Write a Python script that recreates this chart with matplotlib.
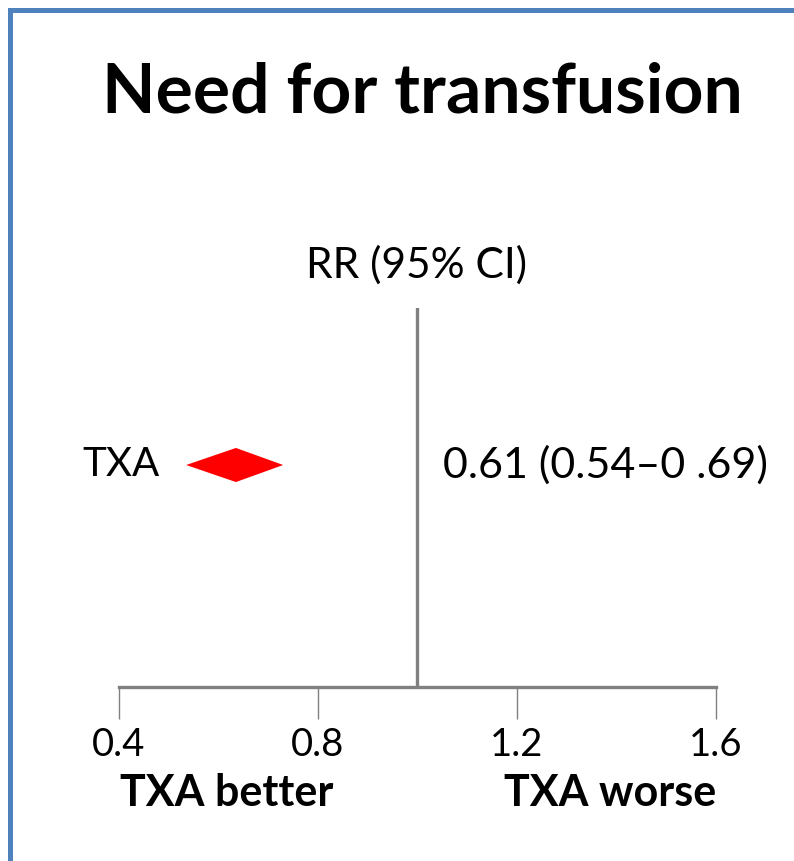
#!/usr/bin/env python3

import matplotlib
matplotlib.use("Agg")
import matplotlib.pyplot as plt
from matplotlib.lines import Line2D
from matplotlib.patches import Polygon

# Data
labels = ["TXA"]
est = [0.635]
lower = [0.535]
upper = [0.73]
ci_text = ["0.61 (0.54\u20130 .69)"]
xticks = [0.4, 0.8, 1.2, 1.6]
xtick_labels = ["0.4", "0.8", "1.2", "1.6"]

W, H = 794, 861
FONT = "Lato"
GRAY = "#808080"
BLUE = "#4F81BD"

plt.rcParams["font.family"] = [FONT, "DejaVu Sans"]

fig = plt.figure(figsize=(W / 100, H / 100), dpi=100)


def fx(px):
    return px / W


def fy(py):
    return 1 - py / H


# slide frame (cropped on right and bottom)
fig.add_artist(Line2D([fx(10), fx(10)], [fy(10), fy(H + 10)], color=BLUE, lw=3.6,
                      transform=fig.transFigure, solid_capstyle="projecting"))
fig.add_artist(Line2D([fx(10), fx(W + 10)], [fy(10), fy(10)], color=BLUE, lw=3.6,
                      transform=fig.transFigure, solid_capstyle="projecting"))

# plot area: x 0.4 -> 119px, 1.6 -> 716px; y from axis line (687) to top of ref line (308)
ax = fig.add_axes([fx(119), fy(687), fx(716) - fx(119), (687 - 308) / H])
ax.set_xlim(0.4, 1.6)
ax.set_ylim(0, 1)
row_y = [(687 - 465) / (687 - 308)]

for s in ["top", "right", "left"]:
    ax.spines[s].set_visible(False)
ax.spines["bottom"].set_color(GRAY)
ax.spines["bottom"].set_linewidth(2.4)
ax.set_yticks([])
ax.set_xticks(xticks)
ax.set_xticklabels(xtick_labels, fontsize=27.5)
ax.tick_params(axis="x", direction="out", length=23, width=1, color=GRAY, pad=6)

ax.axvline(1.0, 0, 1, color=GRAY, lw=2.4)

# diamond for the pooled estimate
for y, e, lo, hi in zip(row_y, est, lower, upper):
    h = 0.045
    ax.add_patch(Polygon([[lo, y], [e, y + h], [hi, y], [e, y - h]], closed=True,
                         facecolor="#FF0000", edgecolor="none"))

# text
fig.text(fx(422), fy(93), "Need for transfusion", fontsize=50, fontweight="bold",
         ha="center", va="center")
fig.text(fx(417), fy(265), "RR (95% CI)", fontsize=30.5, ha="center", va="center")
for lab, txt, y in zip(labels, ci_text, [465] * len(labels)):
    fig.text(fx(82), fy(y), lab, fontsize=29, ha="left", va="center")
    fig.text(fx(443), fy(y), txt, fontsize=31, ha="left", va="center")
fig.text(fx(227), fy(793), "TXA better", fontsize=31, fontweight="bold", ha="center", va="center")
fig.text(fx(610), fy(793), "TXA worse", fontsize=31, fontweight="bold", ha="center", va="center")

fig.savefig("out.png", dpi=100)
